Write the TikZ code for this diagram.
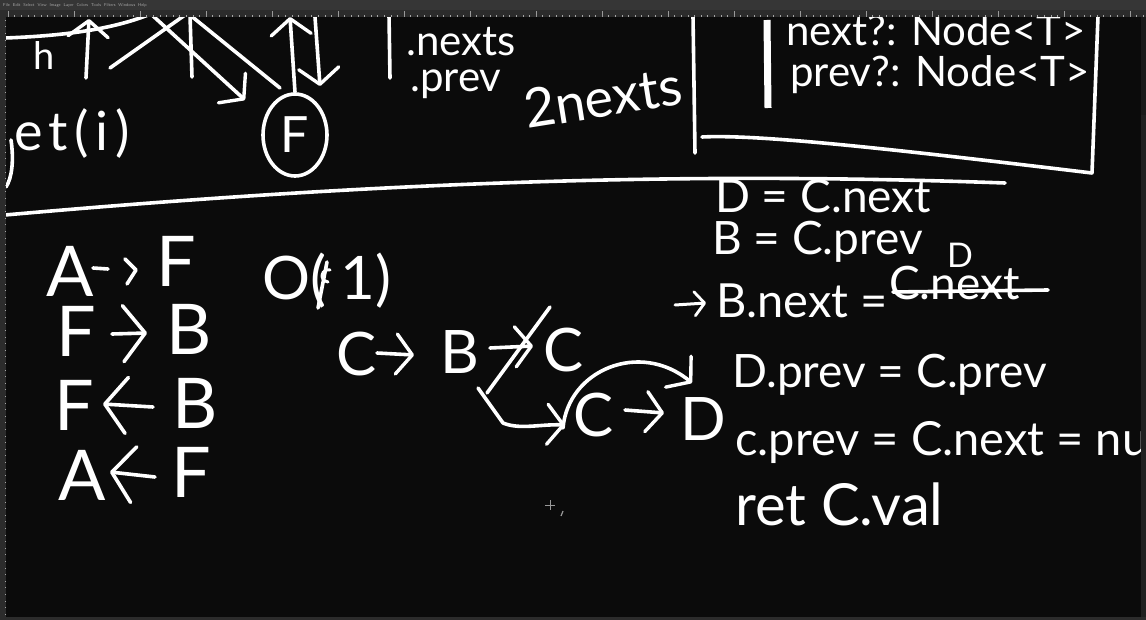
\documentclass[tikz,border=0pt]{standalone}
\usepackage{fontspec}
\newfontfamily\hand{Lato}
\usetikzlibrary{arrows.meta,shapes.geometric}
\newcommand\hsz[1]{\fontsize{#1}{#1}\selectfont}
\definecolor{bg}{HTML}{0B0B0B}
\definecolor{barc}{HTML}{363636}
\definecolor{rulc}{HTML}{2C2C2C}
\definecolor{scrtop}{HTML}{1A1A1A}
\tikzset{
  ink/.style={draw=white, line width=3.6pt, line cap=round, line join=round},
  barb/.style={-{Straight Barb[length=16pt,width=40pt,line width=3.4pt,round]}},
  bigbarb/.style={-{Straight Barb[length=22pt,width=56pt,line width=3.6pt,round]}},
  hw/.style={text=white, inner sep=0pt, anchor=base west, font=\hand},
}
\begin{document}
\begin{tikzpicture}[x=1pt,y=-1pt]
\useasboundingbox (0,0) rectangle (1146,620);
\fill[bg] (0,0) rectangle (1146,620);

% ---------- top-left sketch ----------
\draw[ink] (5,38) .. controls (60,36) and (110,30) .. (148,15);
\node[hw, font=\hand\hsz{38}] (h) at (33,70) {h};
\draw[ink, barb] (86,78) -- (89,19);
\draw[ink] (110,68) -- (185,15);
\draw[ink, barb] (152,15) -- (245,100);
\draw[ink] (190,15) -- (192,77);
\draw[ink] (190,15) -- (280,88);
\node[ellipse, draw=white, line width=3.6pt, minimum width=64pt, minimum height=82pt,
      text=white, font=\hand\hsz{50}, inner sep=0pt] (Fc) at (295,135) {F};
\coordinate (upend) at (290,17);
\draw[ink, barb] (Fc.north) -- (upend);
\coordinate (dnstart) at (315,17);
\coordinate (dnend) at (320,86);
\draw[ink, barb] (dnstart) -- (dnend);
\node[hw, font=\hand\hsz{54}\addfontfeature{LetterSpace=12}] (get) at (14,151) {et(i)};
\draw[ink] (11,140) .. controls (14,160) and (12,178) .. (6,187);
\draw[ink] (389,15) -- (390,78);
\node[hw, font=\hand\hsz{42}] (nexts) at (406,56) {.nexts};
\node[hw, font=\hand\hsz{42}] (prevs) at (410,92) {.prev};
\node[hw, font=\hand\hsz{54}, rotate=9] (twon) at (527,129) {2nexts};

% ---------- top-right box ----------
\draw[ink] (693,16) -- (695,153);
\draw[ink] (702,137) .. controls (760,134) and (900,150) .. (1092,173) -- (1098,16);
\draw[white, line width=7pt] (767,20) -- (768,108);
\node[hw, font=\hand\hsz{42}] (nextT) at (786,46) {next?: Node<T>};
\node[hw, font=\hand\hsz{42}] (prevT) at (790,87) {prev?: Node<T>};

% ---------- divider ----------
\draw[ink] (5,215) .. controls (400,180) and (700,172) .. (1005,183);

% ---------- left column ----------
\node[hw, font=\hand\hsz{70}] (A1) at (46,297) {A};
\node[hw, font=\hand\hsz{70}] (F1) at (156,287) {F};
\draw[ink] (93,268) -- (108,269);
\draw[ink] (125,259) -- (136,270) -- (127,284);

\node[hw, font=\hand\hsz{70}] (F2) at (56,356) {F};
\node[hw, font=\hand\hsz{70}] (B2) at (166,355) {B};
\draw[ink, bigbarb] (112,334) -- (147,333);

\node[hw, font=\hand\hsz{70}] (F3) at (54,430) {F};
\node[hw, font=\hand\hsz{70}] (B3) at (172,428) {B};
\draw[ink, bigbarb] (153,407) -- (103,404);

\node[hw, font=\hand\hsz{70}] (A4) at (58,500) {A};
\node[hw, font=\hand\hsz{70}] (F4) at (171,497) {F};
\draw[ink, bigbarb] (155,477) -- (110,472);

% ---------- O(1) ----------
\node[hw, font=\hand\hsz{60}] (On) at (262,300) {O(\kern14pt 1)};
\draw[ink] (318,308) -- (327,262);
\draw[white, line width=3pt, line cap=round] (330,270) .. controls (322,268) and (318,280) .. (328,282);

% ---------- middle sketch ----------
\node[hw, font=\hand\hsz{60}] (Ca) at (336,375) {C};
\node[hw, font=\hand\hsz{60}] (Ba) at (440,373) {B};
\node[hw, font=\hand\hsz{60}] (Cb) at (543,371) {C};
\draw[ink, barb] (377,353) -- (414,355);
\draw[ink, barb] (490,348) -- (533,346);
\draw[ink] (487,393) -- (550,307);
\node[hw, font=\hand\hsz{60}] (Cc) at (573,436) {C};
\node[hw, font=\hand\hsz{60}] (Dc) at (680,440) {D};
\draw[ink, barb] (625,410) -- (664,413);
\draw[ink, barb] (478,388) -- (503,423) .. controls (520,430) and (540,424) .. (565,425);
\draw[ink, barb] (563,428) .. controls (568,370) and (640,340) .. (692,383);

% cursor
\draw[gray!80, line width=0.8pt] (545,505) -- (555,505) (550,500) -- (550,510);
\draw[gray!80, line width=1.2pt] (563,511) -- (561,516);

% ---------- right column ----------
\node[hw, font=\hand\hsz{46}] (L1) at (715,213) {D = C.next};
\node[hw, font=\hand\hsz{46}] (L2) at (712,255) {B = C.prev};
\coordinate (arr0) at (675,305);
\draw[white, line width=3pt, line cap=round, -{Straight Barb[length=10pt,width=24pt,line width=2.8pt,round]}] (arr0) -- (706,303);
\node[hw, font=\hand\hsz{47}] (L3) at (716,318) {B.next =};
\node[hw, font=\hand\hsz{46}] (L3s) at (889,300) {C.next};
\draw[ink] (893,292) -- (1048,290);
\node[hw, font=\hand\hsz{34}] (L3d) at (947,268) {D};
\node[hw, font=\hand\hsz{46}] (L4) at (732,387) {D.prev = C.prev};
\node[hw, font=\hand\hsz{47}] (L5) at (735,455) {c.prev = C.next = nu};
\node[hw, font=\hand\hsz{58}] (L6) at (735,525) {ret C.val};

% ---------- application chrome ----------
\fill[barc] (0,0) rectangle (1146,10);
\node[anchor=west, inner sep=0pt, text=gray!70, font=\sffamily\hsz{4.2}] (menu) at (3,5.5)
  {File\ \ Edit\ \ Select\ \ View\ \ Image\ \ Layer\ \ Colors\ \ Tools\ \ Filters\ \ Windows\ \ Help};
\fill[rulc] (0,10) rectangle (1146,17);
\foreach \i in {0,...,172} { \draw[gray!70, line width=0.5pt] (8+\i*6.6,17) -- (8+\i*6.6,15.5); }
\foreach \i in {0,...,17} { \draw[gray!80, line width=0.5pt] (8+\i*66,17) -- (8+\i*66,11); }
\fill[rulc] (0,10) rectangle (6,620);
\foreach \i in {0,...,90} { \draw[gray!70, line width=0.5pt] (6,20+\i*6.6) -- (4.5,20+\i*6.6); }
\fill[scrtop] (1141,17) rectangle (1146,115);
\fill[gray!25!black] (1141,115) rectangle (1146,617);
\fill[rulc] (0,617) rectangle (1146,620);
\end{tikzpicture}
\end{document}
